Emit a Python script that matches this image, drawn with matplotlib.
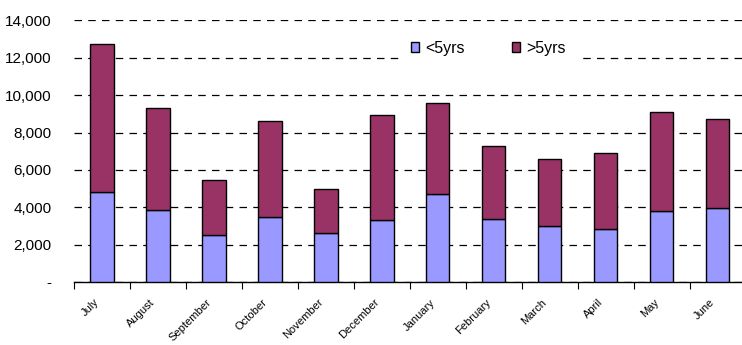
import matplotlib.pyplot as plt
import matplotlib.transforms as mtransforms
import numpy as np

# ==== data ====
months = ["July", "August", "September", "October", "November", "December",
          "January", "February", "March", "April", "May", "June"]
under5 = [4800, 3850, 2500, 3500, 2600, 3300, 4700, 3370, 3000, 2850, 3780, 3970]
total = [12750, 9300, 5470, 8600, 5000, 8950, 9600, 7300, 6580, 6900, 9080, 8750]
over5 = [t - u for t, u in zip(total, under5)]

plt.rcParams['font.family'] = ['Liberation Sans', 'DejaVu Sans']

fig = plt.figure(figsize=(7.42, 3.45), dpi=100)
ax = fig.add_axes([0.0997, 0.1826, 0.905, 0.758])

x = np.arange(len(months))
ax.bar(x, under5, width=0.42, color="#9999FF", edgecolor="black", linewidth=1, label="<5yrs", zorder=3)
ax.bar(x, over5, width=0.42, bottom=under5, color="#993366", edgecolor="black", linewidth=1, label=">5yrs", zorder=3)

ax.set_xlim(-0.5, len(months) - 0.5)
ax.set_ylim(0, 14000)
yt = np.arange(0, 14001, 2000)
ax.set_yticks(yt)
ax.set_yticklabels(["-"] + [f"{v:,}" for v in yt[1:]], fontsize=11)
ax.tick_params(axis='y', length=0, pad=16)

# category boundary ticks, labels at centres
ax.set_xticks(x - 0.5)
ax.set_xticklabels([])
ax.set_xticks(x, minor=True)
ax.set_xticklabels(months, minor=True, rotation=45, ha='right', rotation_mode='anchor', fontsize=8)
ax.tick_params(axis='x', which='major', length=5, direction='out', color='black')
ax.tick_params(axis='x', which='minor', length=0, pad=11)
shift = mtransforms.ScaledTranslation(-8 / 100, 0, fig.dpi_scale_trans)
for lab in ax.get_xticklabels(minor=True):
    lab.set_transform(lab.get_transform() + shift)

for s in ["top", "right", "left"]:
    ax.spines[s].set_visible(False)
ax.spines["bottom"].set_linewidth(1)

ax.yaxis.grid(True, linestyle=(0, (6, 5)), color="black", linewidth=0.9, zorder=0)
ax.set_axisbelow(True)

leg = ax.legend(loc="upper left", bbox_to_anchor=(0.475, 0.99), ncol=2, frameon=True,
                fancybox=False, edgecolor="white", facecolor="white", framealpha=1,
                fontsize=11.5, handlelength=0.5, handleheight=0.5, handletextpad=0.4,
                columnspacing=3.0, borderpad=0.6)

plt.savefig("out.png", dpi=100)
